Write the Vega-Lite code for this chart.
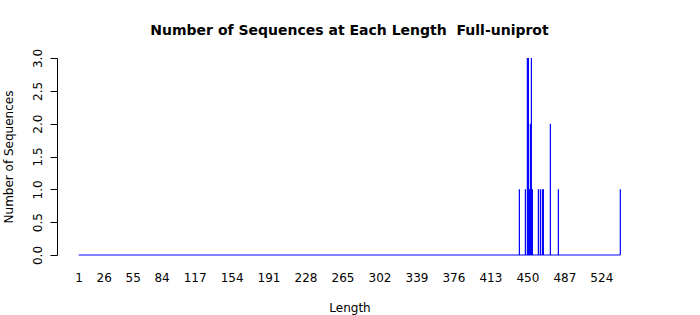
{
  "$schema": "https://vega.github.io/schema/vega-lite/v6.json",
  "width": 585,
  "height": 197,
  "autosize": {"type": "none"},
  "padding": {"left": 57, "top": 58, "right": 58, "bottom": 60},
  "background": "white",
  "config": {
    "view": {"stroke": null},
    "font": "DejaVu Sans",
    "axis": {"labelOverlap": false, "labelFlush": false, "grid": false, "labelColor": "black", "titleColor": "black", "labelFontSize": 12, "titleFontSize": 12, "titleFontWeight": "normal"}
  },
  "title": {
    "text": "Number of Sequences at Each Length \u00a0Full-uniprot",
    "fontSize": 14,
    "fontWeight": "bold",
    "font": "DejaVu Sans",
    "anchor": "middle",
    "offset": 10,
    "color": "black"
  },
  "encoding": {
    "x": {
      "field": "length",
      "type": "quantitative",
      "scale": {"domain": [-20.7, 564.7], "nice": false, "zero": false},
      "axis": {
        "values": [1, 26, 55, 84, 117, 154, 191, 228, 265, 302, 339, 376, 413, 450, 487, 524],
        "domain": false,
        "ticks": false,
        "labelOverlap": false,
        "labelPadding": 17,
        "title": "Length",
        "titlePadding": 19
      }
    },
    "y": {
      "field": "count",
      "type": "quantitative",
      "scale": {"domain": [0, 3], "nice": false},
      "axis": {
        "values": [0, 0.5, 1, 1.5, 2, 2.5, 3],
        "format": ".1f",
        "labelOverlap": false,
        "labelAngle": -90,
        "labelAlign": "center",
        "labelBaseline": "bottom",
        "labelPadding": 6,
        "domainColor": "black",
        "tickColor": "black",
        "tickSize": 7,
        "title": "Number of Sequences",
        "titlePadding": 16
      }
    }
  },
  "layer": [
    {
      "data": {"values": [{"length": 1, "end": 543, "count": 0}]},
      "mark": {"type": "rule", "color": "blue", "strokeWidth": 1},
      "encoding": {
        "x2": {"field": "end"}
      }
    },
    {
      "data": {
        "values": [
          {"length": 442, "count": 1},
          {"length": 448, "count": 1},
          {"length": 450, "count": 3},
          {"length": 451, "count": 3},
          {"length": 452, "count": 1},
          {"length": 453, "count": 2},
          {"length": 454, "count": 3},
          {"length": 455, "count": 1},
          {"length": 461, "count": 1},
          {"length": 463, "count": 1},
          {"length": 465, "count": 1},
          {"length": 466, "count": 1},
          {"length": 473, "count": 2},
          {"length": 481, "count": 1},
          {"length": 543, "count": 1}
        ]
      },
      "mark": {"type": "rule", "color": "blue", "strokeWidth": 1.2},
      "encoding": {
        "y2": {"datum": 0}
      }
    }
  ]
}
